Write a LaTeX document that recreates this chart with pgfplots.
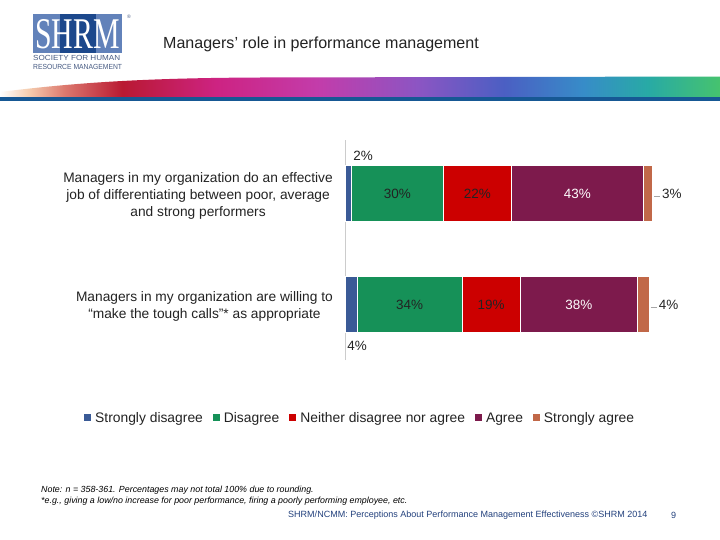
\documentclass[border=0pt]{standalone}
\usepackage{pgfplots}
\pgfplotsset{compat=1.18}
\usepackage{pgfplotstable}
\usepackage{fontspec}
\setmainfont{Liberation Sans}
\newfontfamily\seriffont{Liberation Serif}
\definecolor{sd}{RGB}{58,90,150}
\definecolor{dis}{RGB}{22,145,88}
\definecolor{nei}{RGB}{204,0,0}
\definecolor{agr}{RGB}{125,26,76}
\definecolor{sa}{RGB}{193,104,72}
\definecolor{logolight}{RGB}{98,130,186}
\definecolor{logodark}{RGB}{28,72,140}
\definecolor{logotext}{RGB}{70,90,130}
\definecolor{bandblue}{RGB}{22,88,148}
\definecolor{foot}{RGB}{35,65,125}
\definecolor{txt}{RGB}{35,35,35}
\pgfdeclarehorizontalshading{swoosh}{100bp}{
color(0bp)=(white);
color(25bp)=(white);
color(27bp)=(rgb,255:red,245;green,205;blue,175);
color(29.5bp)=(rgb,255:red,220;green,120;blue,110);
color(33.5bp)=(rgb,255:red,185;green,25;blue,50);
color(40bp)=(rgb,255:red,205;green,35;blue,130);
color(47bp)=(rgb,255:red,195;green,60;blue,170);
color(54bp)=(rgb,255:red,140;green,85;blue,195);
color(60bp)=(rgb,255:red,75;green,95;blue,195);
color(65.5bp)=(rgb,255:red,55;green,140;blue,200);
color(70bp)=(rgb,255:red,40;green,170;blue,165);
color(75bp)=(rgb,255:red,70;green,195;blue,110);
color(100bp)=(rgb,255:red,70;green,195;blue,110)}

\pgfplotstableread{
y sd dis nei agr sa
1 2 30 22 43 3
0 4 34 19 38 4
}\data

\newcommand{\pct}{\pgfmathprintnumber[assume math mode=true]{\pgfplotspointmeta}\%}

\begin{document}
\begin{tikzpicture}
\path[use as bounding box, fill=white] (0,0) rectangle (720bp,-540bp);
\begin{scope}[x=1bp,y=-1bp]
 % logo
 \fill[logolight] (33,14) rectangle (122,53);
 \fill[logodark] (60,14) rectangle (96,53);
 \node[text=white, inner sep=0pt, text height=28bp, text depth=0pt, anchor=base] at (77.5,48.5)
   {\scalebox{0.68}[1]{\fontsize{44}{44}\seriffont SHRM}};
 \node[text=logotext, inner sep=0pt, anchor=west] at (127,17) {\fontsize{5}{5}\selectfont\textregistered};
 \node[text=logotext, inner sep=0pt, text height=5bp, text depth=0.5bp, anchor=west] at (33,58.5)
   {\scalebox{1.1}[1]{\fontsize{7.4}{7.4}\selectfont SOCIETY FOR HUMAN}};
 \node[text=logotext, inner sep=0pt, text height=5bp, text depth=0.5bp, anchor=west] at (33,67.5)
   {\scalebox{0.92}[1]{\fontsize{7.4}{7.4}\selectfont RESOURCE MANAGEMENT}};
 % title
 \node[text=txt, inner sep=0pt, anchor=west] at (163,44)
   {\fontsize{16.1}{18}\selectfont Managers' role in performance management};
 % band
 \shade[shading=swoosh] (0,92) .. controls (80,82) and (150,78) .. (260,77.5) -- (720,76.5) -- (720,97) -- (0,97) -- cycle;
 \fill[bandblue] (0,96.5) rectangle (720,101);
 % footer
 \node[text=black, inner sep=0pt, anchor=west] at (41,490)
   {\fontsize{8.9}{9}\selectfont\itshape Note: n = 358-361. Percentages may not total 100\% due to rounding.};
 \node[text=black, inner sep=0pt, anchor=west] at (41,501)
   {\fontsize{8.9}{9}\selectfont\itshape *e.g., giving a low/no increase for poor performance, firing a poorly performing employee, etc.};
 \node[text=foot, inner sep=0pt, anchor=west] at (288,515)
   {\fontsize{9.05}{10}\selectfont SHRM/NCMM: Perceptions About Performance Management Effectiveness \textcopyright SHRM 2014};
 \node[text=foot, inner sep=0pt, anchor=west] at (671,515)
   {\fontsize{9.05}{10}\selectfont 9};
\end{scope}
\begin{axis}[
  at={(345bp,-360bp)}, anchor=south west,
  scale only axis, width=307.7bp, height=220bp,
  xbar stacked, bar width=56bp,
  xmin=0, xmax=100, ymin=-0.498, ymax=1.484,
  axis x line=none, axis y line*=left,
  y axis line style={draw=black!20, line width=0.8bp},
  ytick={0,1}, major tick length=0pt,
  yticklabels={{Managers in my organization are willing to\\``make the tough calls''* as appropriate},
               {Managers in my organization do an effective\\job of differentiating between poor, average\\and strong performers}},
  yticklabel style={align=center, font=\fontsize{13.8}{17}\selectfont, text=txt, inner sep=0pt, xshift=-12bp, yshift=-2bp},
  clip=false,
  legend columns=5,
  legend style={at={(axis description cs:-0.858,-0.2636)}, anchor=west, draw=none, fill=none,
    font=\fontsize{13.9}{16}\selectfont, text=txt,
    /tikz/every odd column/.append style={column sep=2bp},
    /tikz/every even column/.append style={column sep=8bp, text depth=0.22em}},
  legend image code/.code={\fill[#1,draw=none] (0bp,-3.5bp) rectangle (7bp,3.5bp);},
]
\addplot[fill=sd, draw=white, line width=0.7bp,
  point meta=\thisrow{sd}, visualization depends on=\thisrow{y} \as \ry,
  nodes near coords={\pct},
  every node near coord/.style={anchor=center, text=txt, font=\fontsize{13.5}{16}\selectfont,
     xshift={(6+9*\ry)*1bp}, yshift={(79*\ry-41)*1bp}}]
  table[x=sd, y=y]{\data};
\addlegendentry{Strongly disagree}
\addplot[fill=dis, draw=white, line width=0.7bp,
  point meta=\thisrow{dis},
  nodes near coords={\pct},
  every node near coord/.style={anchor=center, text=txt, font=\fontsize{13.5}{16}\selectfont}]
  table[x=dis, y=y]{\data};
\addlegendentry{Disagree}
\addplot[fill=nei, draw=white, line width=0.7bp,
  point meta=\thisrow{nei},
  nodes near coords={\pct},
  every node near coord/.style={anchor=center, text=txt, font=\fontsize{13.5}{16}\selectfont}]
  table[x=nei, y=y]{\data};
\addlegendentry{Neither disagree nor agree}
\addplot[fill=agr, draw=white, line width=0.7bp,
  point meta=\thisrow{agr},
  nodes near coords={\pct},
  every node near coord/.style={anchor=center, text=white, font=\fontsize{13.5}{16}\selectfont}]
  table[x=agr, y=y]{\data};
\addlegendentry{Agree}
\addplot[fill=sa, draw=white, line width=0.7bp,
  point meta=\thisrow{sa}, visualization depends on=\thisrow{sa} \as \rawx,
  nodes near coords={\textcolor{black!35}{\rule[0.3ex]{6bp}{0.6bp}}\hspace{2bp}\pct},
  every node near coord/.style={anchor=west, text=txt, font=\fontsize{13.5}{16}\selectfont,
     inner xsep=0pt, xshift={(\rawx*1.5385+1)*1bp}}]
  table[x=sa, y=y]{\data};
\addlegendentry{Strongly agree}
\end{axis}
\end{tikzpicture}
\end{document}
